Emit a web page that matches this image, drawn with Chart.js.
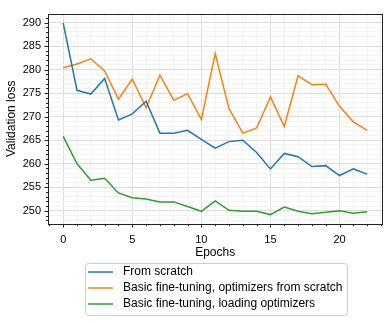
<!DOCTYPE html>
<html>
<head>
<meta charset="utf-8">
<script src="https://cdn.jsdelivr.net/npm/chart.js@4"></script>
<style>
  body { margin: 0; background: #fff; }
</style>
</head>
<body>
<canvas id="loss-chart" width="390" height="323"></canvas>
<script>
// valeurs
const epochs = [0,1,2,3,4,5,6,7,8,9,10,11,12,13,14,15,16,17,18,19,20,21,22];
const fromScratch = [289.9, 275.6, 274.8, 278.1, 269.3, 270.6, 273.3, 266.5, 266.5, 267.1, 265.2,
  263.3, 264.7, 265.0, 262.4, 258.9, 262.2, 261.5, 259.4, 259.6, 257.5, 258.9, 257.8];
const optimScratch = [280.4, 281.2, 282.3, 279.7, 273.7, 278.0, 271.9, 278.8, 273.5, 274.9, 269.4,
  283.4, 271.7, 266.5, 267.6, 274.2, 267.9, 278.7, 276.8, 276.9, 272.2, 268.9, 267.1];
const loadingOptim = [265.8, 260.0, 256.5, 256.9, 253.8, 252.8, 252.5, 251.9, 251.9, 250.9, 249.9,
  252.1, 250.1, 249.9, 249.9, 249.2, 250.8, 249.9, 249.4, 249.7, 250.0, 249.5, 249.8];
const seriesNames = ["From scratch", "Basic fine-tuning, optimizers from scratch", "Basic fine-tuning, loading optimizers"];
const xTicks = [-1,0,1,2,3,4,5,6,7,8,9,10,11,12,13,14,15,16,17,18,19,20,21,22,23];
const yTicks = [];
for (let v = 248; v <= 291; v++) yTicks.push(v);

Chart.defaults.font.family = "'Liberation Sans', Arial, sans-serif";
Chart.defaults.color = "#000";

const gridColor = (ctx) => (ctx.tick && ctx.tick.value % 5 === 0) ? "#dcdcdc" : "#f3f3f3";

// cadre, petites graduations et légende en boîte
const extras = {
  id: "extras",
  afterDraw(chart) {
    const c = chart.ctx, a = chart.chartArea;
    const xs = chart.scales.x, ys = chart.scales.y;
    c.save();
    c.strokeStyle = "#222";
    c.lineWidth = 1;
    c.strokeRect(Math.round(a.left) + 0.5, Math.round(a.top) + 0.5,
      Math.round(a.right - a.left), Math.round(a.bottom - a.top));
    c.beginPath();
    xTicks.forEach(v => {
      const px = Math.round(xs.getPixelForValue(v)) + 0.5;
      const len = v % 5 === 0 ? 3.5 : 2;
      c.moveTo(px, a.bottom); c.lineTo(px, a.bottom + len);
    });
    yTicks.forEach(v => {
      const py = Math.round(ys.getPixelForValue(v)) + 0.5;
      const len = v % 5 === 0 ? 3.5 : 2;
      c.moveTo(a.left, py); c.lineTo(a.left - len, py);
    });
    c.stroke();

    // légende
    c.fillStyle = "#fff";
    c.strokeStyle = "#cccccc";
    c.beginPath();
    c.roundRect(85.5, 263.5, 262, 52, 3);
    c.fill(); c.stroke();
    c.font = "12px 'Liberation Sans', Arial, sans-serif";
    c.textBaseline = "middle";
    chart.data.datasets.forEach((ds, i) => {
      const y = 272 + i * 16;
      c.strokeStyle = ds.borderColor;
      c.lineWidth = 1.5;
      c.beginPath(); c.moveTo(88, y); c.lineTo(113, y); c.stroke();
      c.fillStyle = "#000";
      c.fillText(ds.label, 123, y);
    });
    c.restore();
  }
};

new Chart(document.getElementById("loss-chart"), {
  type: "line",
  data: {
    labels: epochs,
    datasets: [
      { label: seriesNames[0], data: fromScratch, borderColor: "#1f77b4" },
      { label: seriesNames[1], data: optimScratch, borderColor: "#ff7f0e" },
      { label: seriesNames[2], data: loadingOptim, borderColor: "#2ca02c" },
    ],
  },
  options: {
    responsive: false,
    devicePixelRatio: 1,
    animation: false,
    elements: {
      point: { radius: 0 },
      line: { borderWidth: 1.5, tension: 0, fill: false },
    },
    layout: { padding: { top: 7, right: 6, left: 0, bottom: 59 } },
    plugins: { legend: { display: false }, tooltip: { enabled: false } },
    scales: {
      x: {
        type: "linear",
        min: -1.1,
        max: 23.1,
        afterBuildTicks: (s) => { s.ticks = xTicks.map(v => ({ value: v })); },
        afterFit: (s) => { s.height = 40; },
        ticks: {
          autoSkip: false,
          maxRotation: 0,
          padding: 9,
          font: { size: 11 },
          callback: (v) => v % 5 === 0 ? v : "",
        },
        grid: { drawTicks: false, color: gridColor },
        border: { display: false },
        title: { display: true, text: "Epochs", font: { size: 12 } },
      },
      y: {
        min: 247.2,
        max: 291.9,
        afterBuildTicks: (s) => { s.ticks = yTicks.map(v => ({ value: v })); },
        afterFit: (s) => { s.width = 48; },
        ticks: {
          autoSkip: false,
          padding: 7,
          font: { size: 11 },
          callback: (v) => v % 5 === 0 ? v : "",
        },
        grid: { drawTicks: false, color: gridColor },
        border: { display: false },
        title: { display: true, text: "Validation loss", font: { size: 12 } },
      },
    },
  },
  plugins: [extras],
});
</script>
</body>
</html>
